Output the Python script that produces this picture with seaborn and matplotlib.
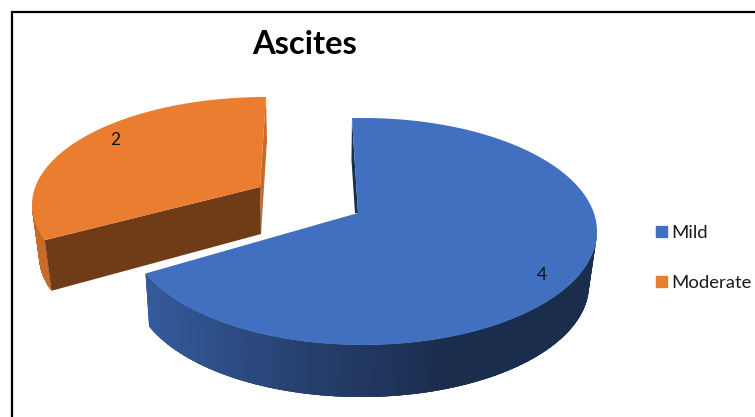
import numpy as np
import matplotlib
matplotlib.use("Agg")
import matplotlib.pyplot as plt
from matplotlib.patches import Patch
import seaborn as sns

labels = ["Mild", "Moderate"]
values = [4, 2]
title = "Ascites"

sns.set_style("white")
plt.rcParams['font.family'] = ['Lato', 'DejaVu Sans']
colors = sns.color_palette(["#4270C1", "#EB7D31"])

# ellipses in pixels: (cx, cy, rx, ry), one for the rim and one for the base of each slice
top_ell = [(363, 231.5, 234, 113.5), (266, 205, 234, 108)]
low_ell = [(361, 285, 228, 112), (267, 255, 228, 110)]
apex = [(358, 213), (260, 187)]
low_apex = [(355, 213), (261, 234)]
rotation = [-2.7, 0]


def view_angle(a):
    # perspective stretches the front of the pie
    return a + 12.7 * np.sin(np.radians(2 * a))


def rim(ell, t):
    cx, cy, rx, ry = ell
    t = np.radians(t)
    return cx + rx * np.sin(t), cy - ry * np.cos(t)


def shade(c, f):
    return tuple(np.array(c) * f)


fig = plt.figure(figsize=(7.55, 4.17), dpi=100)
ax = fig.add_axes([0, 0, 1, 1])
ax.set_xlim(0, 755)
ax.set_ylim(417, 0)
ax.axis("off")

# frame
ax.plot([12, 12, 755], [417, 12, 12], color="black", lw=1.6, solid_joinstyle="miter")

edges = np.cumsum([0] + values) / sum(values) * 360

for i in range(len(values)):
    t0 = view_angle(edges[i]) + rotation[i]
    t1 = view_angle(edges[i + 1]) + rotation[i]
    ts = np.linspace(t0, t1, 200)
    x, y = rim(top_ell[i], ts)

    # outer wall, only the part of the slice that faces the viewer
    # every strip runs on to the end of the wall so no seams show between them
    w0, w1 = max(t0, 90), min(t1, 270)
    if w1 > w0:
        wt = np.linspace(w0, w1, 90)
        for a in wt[::-1][1:]:
            seg = np.linspace(a, min(a + 6, w1), 8)
            ux, uy = rim(top_ell[i], seg)
            lx, ly = rim(low_ell[i], seg[::-1])
            if i == 0:
                f = np.interp(ux[0], [148, 350, 470], [0.82, 0.54, 0.40])
            else:
                f = 0.85
            ax.fill(np.r_[ux, lx], np.r_[uy, ly], color=shade(colors[i], f), lw=0, zorder=2)

    # cut faces
    if i == 0:
        sx, sy = rim(top_ell[i], t0)
        ax.fill([sx, sx - 0.5, low_apex[i][0], apex[i][0]], [sy, 160, low_apex[i][1], apex[i][1]],
                color=shade(colors[i], 0.4), lw=0, zorder=2)
    else:
        sx, sy = rim(top_ell[i], t0)
        lx, ly = rim(low_ell[i], t0)
        ax.fill([sx, apex[i][0], low_apex[i][0], lx], [sy, apex[i][1], low_apex[i][1], ly],
                color=shade(colors[i], 0.476), lw=0, zorder=3)
        ex, ey = rim(top_ell[i], t1)
        ax.fill([ex, ex + 1, low_apex[i][0], apex[i][0]], [ey, 140, low_apex[i][1], apex[i][1]],
                color=shade(colors[i], 0.85), lw=0, zorder=2)

    # top face
    ax.fill(np.r_[x, apex[i][0]], np.r_[y, apex[i][1]], color=colors[i], lw=0, zorder=4)

ax.text(542, 275, str(values[0]), ha="center", va="center", fontsize=12.5, color="#111111", zorder=5)
ax.text(115, 140, str(values[1]), ha="center", va="center", fontsize=12.5, color="#111111", zorder=5)

ax.text(305, 44, title, ha="center", va="center", fontsize=23.5, fontweight="bold", color="black")

handles = [Patch(color=c, label=l) for c, l in zip(colors, labels)]
ax.legend(handles=handles, loc="upper left", bbox_to_anchor=(656 / 755, 1 - 225 / 417), frameon=False,
          fontsize=13.3, handlelength=0.6, handleheight=0.6, handletextpad=0.22, labelspacing=1.84,
          borderpad=0, borderaxespad=0, labelcolor="#1a1a1a")

plt.savefig("out.png", dpi=100)
